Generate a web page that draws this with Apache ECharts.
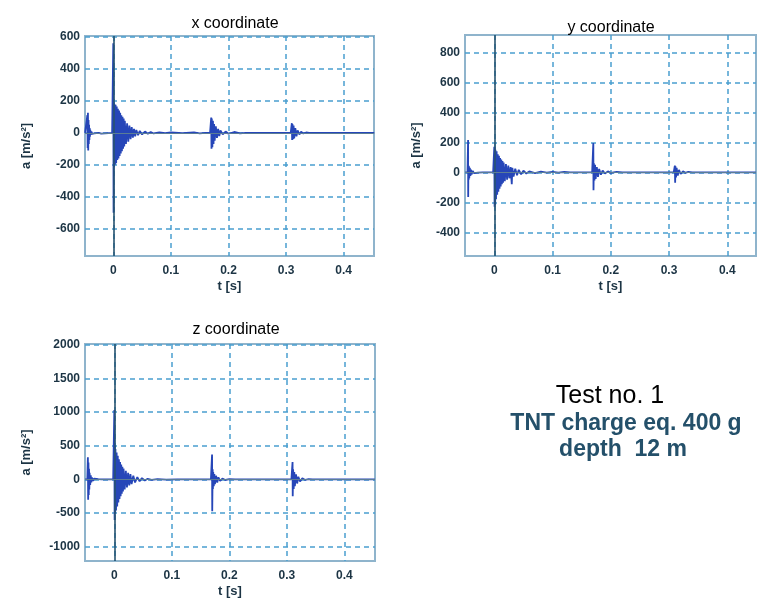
<!DOCTYPE html>
<html><head><meta charset="utf-8">
<script src="https://cdn.jsdelivr.net/npm/echarts@6/dist/echarts.min.js"></script>
<style>html,body{margin:0;padding:0;background:#fff}#c{width:765px;height:605px}</style>
</head><body><div id="c"></div>
<script>
// ---- tick values / labels ----
const timeTicks = [0, 0.1, 0.2, 0.3, 0.4];
const accTicksX = [-600, -400, -200, 0, 200, 400, 600];
const accTicksY = [-400, -200, 0, 200, 400, 600, 800];
const accTicksZ = [-1000, -500, 0, 500, 1000, 1500, 2000];
const panelTitles = ['x coordinate', 'y coordinate', 'z coordinate'];
const infoLines = ['Test no. 1', 'TNT charge eq. 400 g', 'depth  12 m'];

// ---- x coordinate: time [s], acceleration [m/s^2] ----
const timeX = [-0.049,-0.046,-0.045,-0.0445,-0.044,-0.0435,-0.043,-0.0425,-0.042,-0.0415,-0.041,-0.0405,-0.040,-0.039,-0.038,-0.037,-0.035,-0.033,-0.030,-0.025,-0.022,-0.021,-0.019,-0.002,
  0.000,0.0005,0.001,0.0015,0.002,0.003,0.004,0.005,0.006,0.007,0.008,0.009,0.010,0.011,0.012,0.013,0.014,0.015,0.016,0.017,0.018,0.019,0.020,0.022,0.024,0.026,0.028,0.030,0.032,0.034,0.036,0.038,0.040,0.043,0.046,0.050,0.055,0.060,0.065,0.070,0.080,0.090,0.100,0.120,0.140,0.150,0.160,
  0.168,0.170,0.1705,0.171,0.172,0.173,0.174,0.175,0.176,0.178,0.180,0.182,0.184,0.186,0.190,0.195,0.200,0.210,0.220,0.230,
  0.308,0.310,0.3105,0.311,0.312,0.313,0.314,0.316,0.318,0.320,0.323,0.326,0.330,0.335,0.340,0.453];
const accelX = [0,2,110,-95,125,-110,80,-70,50,-45,30,-25,18,-12,8,-6,4,-3,2,0,6,-5,0,0,
  560,-500,190,-215,180,-200,175,-190,165,-170,150,-160,140,-145,125,-130,110,-115,100,-100,90,-85,75,-70,60,-55,45,-40,35,-30,25,-22,18,-15,12,-10,8,-6,5,-4,3,-2,2,-2,3,-3,0,
  0,95,-100,90,-90,75,-70,55,-50,40,-32,25,-20,15,-10,8,-6,5,-3,0,
  0,60,-45,55,-40,45,-35,30,-22,15,-10,6,-4,2,0,0];

// ---- y coordinate ----
const timeY = [-0.050,-0.046,-0.045,-0.0448,-0.0445,-0.044,-0.0435,-0.043,-0.042,-0.041,-0.040,-0.039,-0.037,-0.035,-0.032,-0.028,-0.020,-0.002,
  0.000,0.0005,0.001,0.0015,0.002,0.003,0.004,0.005,0.006,0.007,0.008,0.009,0.010,0.011,0.012,0.013,0.014,0.015,0.016,0.018,0.020,0.022,0.024,0.026,0.028,0.030,0.031,0.033,0.036,0.039,0.042,0.046,0.050,0.055,0.060,0.070,0.080,0.090,0.100,0.110,0.120,0.130,
  0.168,0.170,0.1703,0.171,0.172,0.173,0.174,0.176,0.178,0.180,0.183,0.186,0.190,0.195,0.200,0.210,0.220,
  0.308,0.310,0.3105,0.311,0.312,0.313,0.315,0.317,0.320,0.324,0.328,0.333,0.340,0.449];
const accelY = [0,0,215,-165,45,-50,40,-40,30,-25,18,-15,10,-6,4,-2,0,0,
  170,-230,165,-220,150,-180,140,-150,120,-130,110,-110,95,-95,85,-80,75,-70,65,-60,55,-50,45,-40,35,-80,30,-28,24,-20,16,-13,10,-8,6,-5,4,-3,3,-2,2,0,
  0,195,-120,60,-55,50,-45,35,-30,22,-16,12,-8,6,-4,3,0,
  0,45,-70,40,-35,30,-22,16,-10,6,-4,2,0,0];

// ---- z coordinate ----
const timeZ = [-0.051,-0.047,-0.046,-0.0455,-0.045,-0.0445,-0.044,-0.0435,-0.043,-0.042,-0.041,-0.040,-0.039,-0.037,-0.035,-0.032,-0.028,-0.022,-0.002,
  0.000,0.0005,0.001,0.0015,0.002,0.003,0.004,0.005,0.006,0.007,0.008,0.009,0.010,0.011,0.012,0.013,0.014,0.015,0.016,0.018,0.020,0.022,0.024,0.026,0.028,0.030,0.033,0.036,0.040,0.044,0.048,0.053,0.058,0.065,0.075,0.090,0.110,0.130,
  0.168,0.170,0.1703,0.171,0.1715,0.172,0.173,0.174,0.175,0.177,0.179,0.181,0.184,0.188,0.193,0.200,0.210,
  0.308,0.310,0.3103,0.311,0.312,0.313,0.314,0.316,0.318,0.320,0.323,0.327,0.332,0.338,0.345,0.453];
const accelZ = [0,0,330,-300,250,-230,160,-150,100,-80,60,-45,30,-20,14,-8,4,0,0,
  1030,-600,500,-500,450,-460,400,-400,350,-340,300,-290,260,-250,220,-210,190,-180,160,-150,130,-120,100,-90,80,-70,55,-45,35,-28,20,-15,10,-7,5,-3,2,0,
  0,370,-470,150,-140,110,-100,80,-70,55,-45,32,-22,14,-8,4,0,
  0,260,-250,150,-140,110,-100,75,-60,40,-28,16,-8,4,0,0];

const chart = echarts.init(document.getElementById('c'), null, {renderer: 'canvas'});

const labelColor = '#1c3444';
const gridLineColor = '#4a9fd0';
const fontFam = 'Liberation Sans, Arial, sans-serif';

const panels = [
  {grid: {left: 85, top: 36, width: 289, height: 220}, xr: [-0.0491, 0.4526], yr: [-770, 605], yt: accTicksX, t: timeX, a: accelX, nameGap: 52},
  {grid: {left: 465, top: 35, width: 291, height: 221}, xr: [-0.0503, 0.4493], yr: [-558, 915], yt: accTicksY, t: timeY, a: accelY, nameGap: 42},
  {grid: {left: 85, top: 344, width: 290, height: 217}, xr: [-0.051, 0.4534], yr: [-1210, 2010], yt: accTicksZ, t: timeZ, a: accelZ, nameGap: 52}
];

const option = {
  animation: false,
  backgroundColor: '#ffffff',
  title: [
    {text: panelTitles[0], left: 230, top: 11, textAlign: 'center', textStyle: {fontSize: 16, fontWeight: 'normal', color: '#000', fontFamily: fontFam}},
    {text: panelTitles[1], left: 606, top: 15, textAlign: 'center', textStyle: {fontSize: 16, fontWeight: 'normal', color: '#000', fontFamily: fontFam}},
    {text: panelTitles[2], left: 231, top: 317, textAlign: 'center', textStyle: {fontSize: 16, fontWeight: 'normal', color: '#000', fontFamily: fontFam}},
    {text: infoLines[0], left: 605, top: 379, textAlign: 'center', textStyle: {fontSize: 25, fontWeight: 'normal', color: '#000', fontFamily: fontFam}},
    {text: infoLines[1], left: 621, top: 407, textAlign: 'center', textStyle: {fontSize: 23, fontWeight: 'bold', color: '#24506a', fontFamily: fontFam}},
    {text: infoLines[2], left: 618, top: 433, textAlign: 'center', textStyle: {fontSize: 23, fontWeight: 'bold', color: '#24506a', fontFamily: fontFam}}
  ],
  grid: panels.map(p => Object.assign({show: true, borderColor: '#8fb4cc', borderWidth: 2, backgroundColor: 'transparent'}, p.grid)),
  xAxis: panels.map((p, i) => ({
    type: 'value', gridIndex: i, min: p.xr[0], max: p.xr[1],
    name: 't [s]', nameLocation: 'middle', nameGap: 24,
    nameTextStyle: {fontSize: 13, fontWeight: 'bold', color: labelColor, fontFamily: fontFam},
    axisLine: {show: false},
    axisTick: {show: false, customValues: timeTicks},
    axisLabel: {customValues: timeTicks, margin: 9, fontSize: 12, fontWeight: 'bold', color: labelColor, fontFamily: fontFam, formatter: v => String(Math.round(v * 10) / 10)},
    splitLine: {show: true, lineStyle: {color: gridLineColor, type: [5, 4], width: 1.5}}
  })),
  yAxis: panels.map((p, i) => ({
    type: 'value', gridIndex: i, min: p.yr[0], max: p.yr[1],
    name: 'a [m/s²]', nameLocation: 'middle', nameGap: p.nameGap,
    nameTextStyle: {fontSize: 13, fontWeight: 'bold', color: labelColor, fontFamily: fontFam},
    axisLine: {show: false},
    axisTick: {show: false, customValues: p.yt},
    axisLabel: {customValues: p.yt, margin: 5, fontSize: 12, fontWeight: 'bold', color: labelColor, fontFamily: fontFam, formatter: v => String(Math.round(v))},
    splitLine: {show: true, lineStyle: {color: gridLineColor, type: [5, 4], width: 1.5}}
  })),
  series: panels.map((p, i) => ({
    type: 'line', xAxisIndex: i, yAxisIndex: i,
    data: p.t.map((t, k) => [t, p.a[k]]),
    showSymbol: false, symbol: 'none', sampling: null, clip: true,
    lineStyle: {color: '#2646b8', width: 1.8},
    markLine: {
      silent: true, symbol: 'none', label: {show: false}, animation: false,
      data: [
        {xAxis: 0, lineStyle: {color: '#27536f', width: 1.6, type: 'solid'}},
        {yAxis: 0, lineStyle: {color: '#5b7d96', width: 1.2, type: 'solid'}}
      ]
    }
  }))
};
chart.setOption(option);
</script>
</body></html>
